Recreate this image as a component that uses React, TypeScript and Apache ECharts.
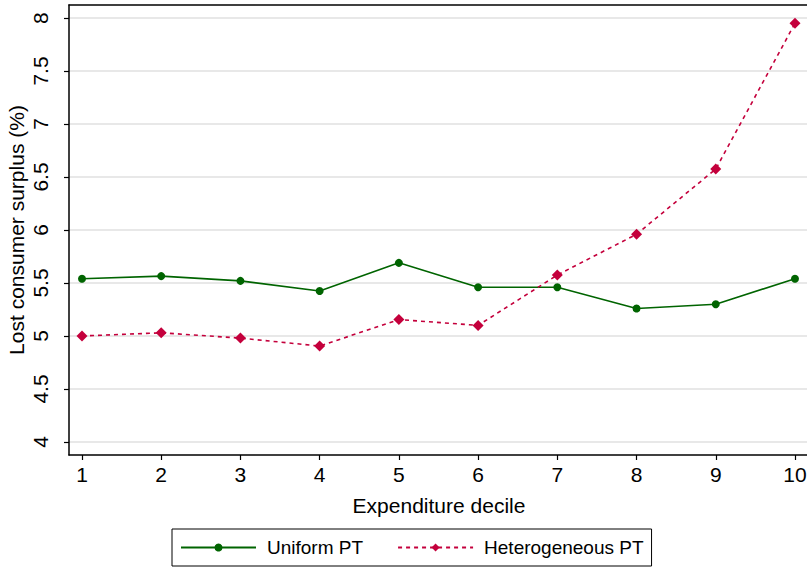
import React, { useEffect, useRef } from "react";
import * as echarts from "echarts";

const deciles = [1, 2, 3, 4, 5, 6, 7, 8, 9, 10];
const uniformPT = [5.54, 5.565, 5.52, 5.425, 5.69, 5.46, 5.46, 5.26, 5.30, 5.54];
const heterogeneousPT = [5.0, 5.03, 4.98, 4.905, 5.155, 5.10, 5.575, 5.96, 6.575, 7.95];
const yTicks = [4, 4.5, 5, 5.5, 6, 6.5, 7, 7.5, 8];
const xTicks = [1, 2, 3, 4, 5, 6, 7, 8, 9, 10];

const FONT = "'Liberation Sans', Arial, sans-serif";
const XMIN = 0.836;
const XMAX = 10.177;

export default function App() {
  const ref = useRef<HTMLDivElement>(null);
  useEffect(() => {
    if (!ref.current) return;
    const chart = echarts.init(ref.current, undefined, { renderer: "svg" });
    chart.setOption({
      animation: false,
      backgroundColor: "#ffffff",
      textStyle: { fontFamily: FONT, color: "#000" },
      grid: {
        left: 69,
        top: 5,
        right: -2,
        bottom: 115,
        containLabel: false,
        outerBoundsMode: "none",
      },
      legend: {
        left: 172,
        top: 529,
        padding: [9, 8, 9, 8],
        borderColor: "#000",
        borderWidth: 1,
        itemWidth: 75,
        itemHeight: 10,
        itemGap: 34,
        textStyle: { fontSize: 19, color: "#000", fontFamily: FONT, padding: [0, 0, 0, 6] },
        data: ["Uniform PT", "Heterogeneous PT"],
      },
      xAxis: [
        {
          type: "value",
          min: XMIN,
          max: XMAX,
          name: "Expenditure decile",
          nameLocation: "middle",
          nameGap: 40,
          nameMoveOverlap: false,
          nameTextStyle: { fontSize: 21, color: "#000", fontFamily: FONT },
          axisLine: { show: true, lineStyle: { color: "#000", width: 1.5 } },
          axisTick: { show: true, length: 5, customValues: xTicks, lineStyle: { color: "#000", width: 1.2 } },
          axisLabel: { customValues: xTicks, fontSize: 21, color: "#000", margin: 9, fontFamily: FONT },
          splitLine: { show: false },
        },
        {
          type: "value",
          position: "top",
          min: XMIN,
          max: XMAX,
          axisLine: { show: true, lineStyle: { color: "#000", width: 1.5 } },
          axisTick: { show: false },
          axisLabel: { show: false },
          splitLine: { show: false },
        },
      ],
      yAxis: {
        type: "value",
        min: 3.877,
        max: 8.123,
        name: "Lost consumer surplus (%)",
        nameLocation: "middle",
        nameRotate: 90,
        nameGap: 42,
        nameMoveOverlap: false,
        nameTextStyle: { fontSize: 21, color: "#000", fontFamily: FONT },
        axisLine: { show: true, lineStyle: { color: "#000", width: 1.5 } },
        axisTick: { show: true, length: 5, customValues: yTicks, lineStyle: { color: "#000", width: 1.2 } },
        axisLabel: { customValues: yTicks, fontSize: 21, color: "#000", rotate: 90, margin: 18, fontFamily: FONT },
        splitLine: { show: true, lineStyle: { color: "#e0e0e0", width: 1.5 } },
      },
      series: [
        {
          name: "Uniform PT",
          type: "line",
          xAxisIndex: 0,
          data: deciles.map((d, i) => [d, uniformPT[i]]),
          symbol: "circle",
          symbolSize: 8,
          color: "#006400",
          lineStyle: { color: "#006400", width: 1.6 },
          itemStyle: { color: "#006400" },
        },
        {
          name: "Heterogeneous PT",
          type: "line",
          xAxisIndex: 0,
          data: deciles.map((d, i) => [d, heterogeneousPT[i]]),
          symbol: "diamond",
          symbolSize: 11,
          color: "#c4003c",
          lineStyle: { color: "#c4003c", width: 1.6, type: [4, 4] },
          itemStyle: { color: "#c4003c" },
        },
      ],
    });
    return () => chart.dispose();
  }, []);
  return (
    <div
      ref={ref}
      style={{ position: "fixed", left: 0, top: 0, width: 807, height: 570 }}
    />
  );
}
